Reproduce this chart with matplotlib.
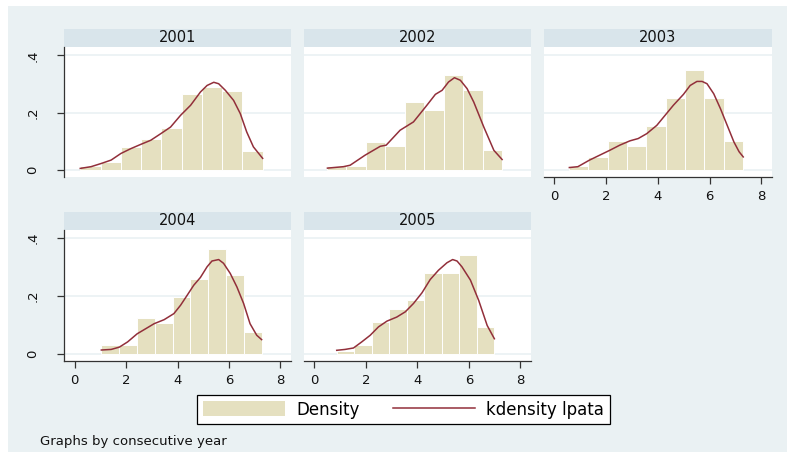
import numpy as np
import matplotlib
matplotlib.use("Agg")
import matplotlib.pyplot as plt
from matplotlib.patches import Rectangle, Patch
from matplotlib.lines import Line2D

W, H = 787, 461

years = [2001, 2002, 2003, 2004, 2005]

# histogram bins (range of lpata per year, 9 bins each) and densities
bin_lo = [0.22, 0.48, 0.56, 1.04, 0.87]
bin_hi = [7.31, 7.30, 7.30, 7.27, 6.99]
dens_2001 = [0.014, 0.027, 0.081, 0.107, 0.146, 0.265, 0.290, 0.277, 0.068]
dens_2002 = [0.014, 0.014, 0.097, 0.084, 0.236, 0.208, 0.333, 0.278, 0.070]
dens_2003 = [0.015, 0.044, 0.100, 0.085, 0.155, 0.252, 0.350, 0.252, 0.100]
dens_2004 = [0.032, 0.032, 0.123, 0.105, 0.196, 0.257, 0.361, 0.271, 0.076]
dens_2005 = [0.008, 0.032, 0.109, 0.156, 0.186, 0.279, 0.279, 0.341, 0.094]

# kernel density curves
kx_2001 = [0.22, 0.64, 1.03, 1.42, 1.80, 2.19, 2.58, 2.96, 3.35, 3.73, 4.12, 4.51,
           4.89, 5.15, 5.41, 5.60, 5.86, 6.18, 6.44, 6.69, 6.95, 7.31]
ky_2001 = [0.006, 0.012, 0.023, 0.035, 0.058, 0.075, 0.090, 0.104, 0.127, 0.150, 0.191, 0.226,
           0.272, 0.295, 0.306, 0.301, 0.278, 0.243, 0.197, 0.133, 0.081, 0.041]
kx_2002 = [0.51, 1.13, 1.39, 1.97, 2.56, 2.79, 3.33, 3.85, 4.37, 4.70, 4.96, 5.21,
           5.44, 5.67, 5.93, 6.19, 6.58, 6.97, 7.29]
ky_2002 = [0.007, 0.012, 0.017, 0.052, 0.083, 0.087, 0.139, 0.168, 0.226, 0.264, 0.278, 0.307,
           0.322, 0.313, 0.284, 0.237, 0.150, 0.069, 0.037]
kx_2003 = [0.58, 0.91, 1.36, 1.75, 2.14, 2.53, 2.92, 3.24, 3.57, 3.96, 4.28, 4.60,
           4.99, 5.25, 5.51, 5.71, 5.90, 6.16, 6.42, 6.68, 6.94, 7.14, 7.30]
ky_2003 = [0.009, 0.012, 0.035, 0.052, 0.069, 0.087, 0.102, 0.110, 0.127, 0.156, 0.191, 0.226,
           0.264, 0.295, 0.309, 0.309, 0.301, 0.266, 0.214, 0.156, 0.098, 0.064, 0.046]
kx_2004 = [1.04, 1.42, 1.74, 2.06, 2.43, 2.77, 3.09, 3.48, 3.86, 4.12, 4.38, 4.63,
           4.89, 5.15, 5.34, 5.60, 5.79, 6.05, 6.31, 6.57, 6.82, 7.08, 7.27]
ky_2004 = [0.013, 0.015, 0.023, 0.041, 0.069, 0.087, 0.104, 0.118, 0.139, 0.168, 0.203, 0.237,
           0.264, 0.301, 0.321, 0.326, 0.313, 0.278, 0.231, 0.174, 0.104, 0.064, 0.049]
kx_2005 = [0.87, 1.19, 1.52, 1.84, 2.17, 2.49, 2.82, 3.20, 3.53, 3.85, 4.18, 4.50,
           4.82, 5.15, 5.37, 5.54, 5.73, 6.06, 6.38, 6.71, 6.99]
ky_2005 = [0.012, 0.015, 0.020, 0.041, 0.064, 0.093, 0.113, 0.127, 0.145, 0.174, 0.211, 0.257,
           0.289, 0.315, 0.326, 0.321, 0.301, 0.255, 0.185, 0.098, 0.052]

dens = [dens_2001, dens_2002, dens_2003, dens_2004, dens_2005]
kx = [kx_2001, kx_2002, kx_2003, kx_2004, kx_2005]
ky = [ky_2001, ky_2002, ky_2003, ky_2004, ky_2005]

xticks = [0, 2, 4, 6, 8]
yticks = [0, 0.2, 0.4]
ylabels = ["0", ".2", ".4"]

BG = "#EAF1F3"
STRIP = "#D9E5EB"
BAR = "#E5E0C0"
LINE = "#922F3A"
AXC = "#333333"

fig = plt.figure(figsize=(W / 100, H / 100), dpi=100, facecolor="white")
fig.patches.append(Rectangle((8 / W, 9 / H), 1 - 8 / W, (452 - 6) / H,
                             transform=fig.transFigure, facecolor=BG,
                             edgecolor="none", zorder=-10))


def px_axes(left, top, right, bottom, **kw):
    return fig.add_axes([left / W, 1 - bottom / H, (right - left) / W, (bottom - top) / H], **kw)


cols = [(64.3, 290.7), (304, 530.7), (544, 771.7)]
rows = [(29, 46.7, 177.3), (211.7, 229.5, 361)]   # strip top, plot top, plot bottom

for i, yr in enumerate(years):
    r, c = divmod(i, 3)
    left, right = cols[c]
    stop, ptop, pbot = rows[r]

    strip = px_axes(left, stop, right, ptop)
    strip.set_facecolor(STRIP)
    strip.set_xticks([])
    strip.set_yticks([])
    for s in strip.spines.values():
        s.set_visible(False)
    strip.text(0.5, 0.5, str(yr), ha="center", va="center", fontsize=10.5,
               color="#111111", transform=strip.transAxes)

    ax = px_axes(left, ptop, right, pbot)
    ax.set_facecolor("white")
    ax.set_xlim(-0.4, 8.4)
    ax.set_ylim(-0.025, 0.43)
    for yt in yticks:
        ax.axhline(yt, color=BG, lw=1.2, zorder=0)

    edges = np.linspace(bin_lo[i], bin_hi[i], len(dens[i]) + 1)
    ax.bar(edges[:-1], dens[i], width=np.diff(edges), align="edge",
           color=BAR, edgecolor="white", linewidth=0.7, zorder=1)
    ax.plot(kx[i], ky[i], color=LINE, lw=1.1, zorder=3)

    for s in ax.spines.values():
        s.set_visible(False)

    # y axis only in the first column
    if c == 0:
        ax.spines["left"].set_visible(True)
        ax.spines["left"].set_color(AXC)
        ax.spines["left"].set_linewidth(0.9)
        ax.set_yticks(yticks)
        ax.set_yticklabels(ylabels, rotation=90, va="center")
        ax.tick_params(axis="y", length=5, width=0.9, color=AXC, pad=13,
                       labelsize=9.5, labelcolor="#111111")
    else:
        ax.set_yticks([])

    # x axis at the bottom of each column
    if i >= 2:
        ax.spines["bottom"].set_visible(True)
        ax.spines["bottom"].set_color(AXC)
        ax.spines["bottom"].set_linewidth(0.9)
        ax.set_xticks(xticks)
        ax.tick_params(axis="x", length=5, width=0.9, color=AXC, pad=4,
                       labelsize=9.5, labelcolor="#111111")
    else:
        ax.set_xticks([])

handles = [Patch(facecolor=BAR, edgecolor="none"),
           Line2D([0], [0], color=LINE, lw=1.1)]
leg = fig.legend(handles, ["Density", "kdensity lpata"], ncol=2,
                 loc="center", bbox_to_anchor=(403.7 / W, 1 - 409.6 / H),
                 fontsize=12, frameon=True, fancybox=False, framealpha=1,
                 edgecolor="black", handlelength=4.9, handleheight=1.0,
                 handletextpad=0.7, columnspacing=2.0, borderpad=0.35,
                 borderaxespad=0)
leg.get_frame().set_linewidth(0.9)

fig.text(40 / W, 1 - 441 / H, "Graphs by consecutive year", fontsize=9.5,
         ha="left", va="center", color="#111111")

fig.savefig("out.png", dpi=100, facecolor=fig.get_facecolor())
